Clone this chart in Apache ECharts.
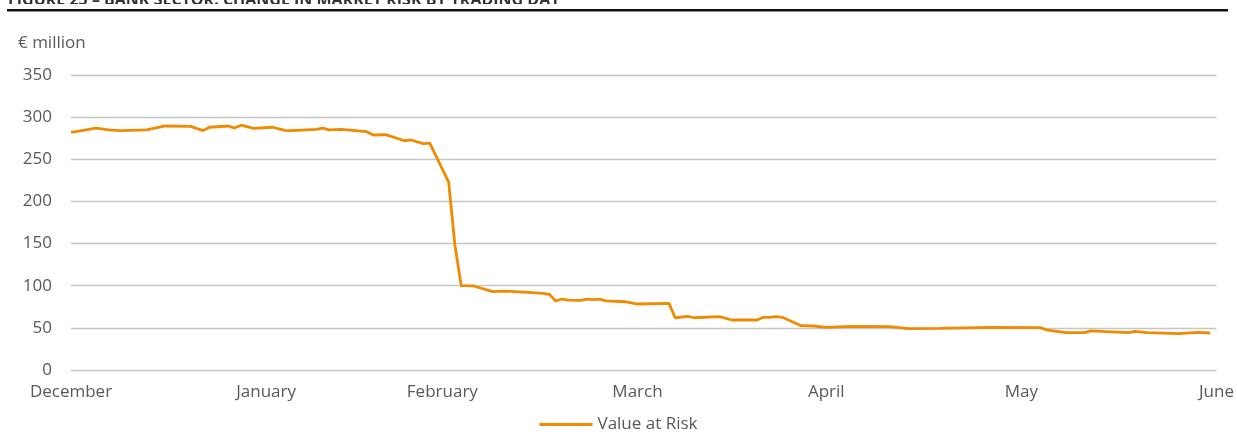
<!DOCTYPE html>
<html>
<head>
<meta charset="utf-8">
<script src="https://cdn.jsdelivr.net/npm/echarts@6/dist/echarts.min.js"></script>
<style>
html,body{margin:0;padding:0;background:#fff;}
#chart{width:1237px;height:432px;}
</style>
</head>
<body>
<div id="chart"></div>
<script>
// Days since 1 December (x position) and Value at Risk (€ million)
const days = [0,4,6,8,12,15,19,21,22,25,26,27,29,32,34,35,39,40,41,43,46,47,48,50,53,54,56,57,60,61,62,64,67,69,72,75,76,77,78,79,81,82,83,84,85,88,90,95,96,98,99,103,105,109,110,111,112,113,116,118,120,124,130,133,138,146,154,155,158,161,162,168,169,171,176,179,181];
const varValues = [282,287,285,284,285,289.5,289,284,288,289.5,287,290.5,286.7,288,284.3,284,285.5,287,285,285.5,283.5,282.7,278.8,279.2,272,272.9,268.5,269.3,223,148,100,99.7,92.9,93.7,92.5,91,89.8,81.9,84.2,83,82.7,84.2,83.4,84,81.9,81,78.3,79,62,63.7,62,63.3,59.3,59.3,62.5,62.5,63.3,62.5,52.6,52.2,50.6,51.8,51.4,49,49.4,50.6,50.2,47.5,44.3,44.3,46.3,44.3,45.9,44.3,43.1,44.7,43.9];
const monthNames = ['December','January','February','March','April','May','June'];
const monthDays = [0,31,59,90,120,151,182];
const yTicks = [0,50,100,150,200,250,300,350];
const seriesName = 'Value at Risk';
const unitLabel = '€ million';
const titleText = 'FIGURE 25 – BANK SECTOR: CHANGE IN MARKET RISK BY TRADING DAY';

const FONT = 'Open Sans';
const FS = 17;
const chart = echarts.init(document.getElementById('chart'), null, {renderer:'canvas'});
chart.setOption({
  animation:false,
  backgroundColor:'#fff',
  textStyle:{fontFamily:FONT},
  grid:{left:71,right:18,top:75,bottom:62,containLabel:false},
  graphic:[
    {type:'text',x:8,y:8,z:10,style:{text:titleText,fontFamily:FONT,fontSize:16,fontWeight:'bold',fill:'#333',textVerticalAlign:'bottom',verticalAlign:'bottom'}},
    {type:'rect',z:11,shape:{x:7,y:9,width:1221,height:2.5},style:{fill:'#111'}},
    {type:'rect',z:11,shape:{x:0,y:4,width:1237,height:5},style:{fill:'#fff'}},
    {type:'text',x:18,y:35,style:{text:unitLabel,fontFamily:FONT,fontSize:FS,fill:'#595959'}}
  ],
  legend:{
    bottom:-6,left:'center',
    data:[{name:seriesName,icon:'rect'}],
    itemWidth:53,itemHeight:3,itemGap:6,
    textStyle:{fontFamily:FONT,fontSize:FS,color:'#595959'}
  },
  xAxis:{
    type:'value',min:0,max:182,
    axisLine:{show:false},axisTick:{show:false},splitLine:{show:false},
    axisLabel:{
      customValues:monthDays,
      formatter:function(v){const i=monthDays.indexOf(v);return i>=0?monthNames[i]:'';},
      fontFamily:FONT,fontSize:FS,color:'#595959',margin:14,
      showMinLabel:true,showMaxLabel:true,hideOverlap:false
    }
  },
  yAxis:{
    type:'value',min:yTicks[0],max:yTicks[yTicks.length-1],interval:50,
    axisLine:{show:false},axisTick:{show:false},
    splitLine:{lineStyle:{color:'#c6c6c6',width:1.3}},
    axisLabel:{fontFamily:FONT,fontSize:FS,color:'#595959',margin:19}
  },
  series:[{
    name:seriesName,type:'line',
    data:days.map((d,i)=>[d,varValues[i]]),
    showSymbol:false,symbol:'none',
    lineStyle:{color:'#f08a00',width:2.8},
    itemStyle:{color:'#f08a00'}
  }]
});
</script>
</body>
</html>
